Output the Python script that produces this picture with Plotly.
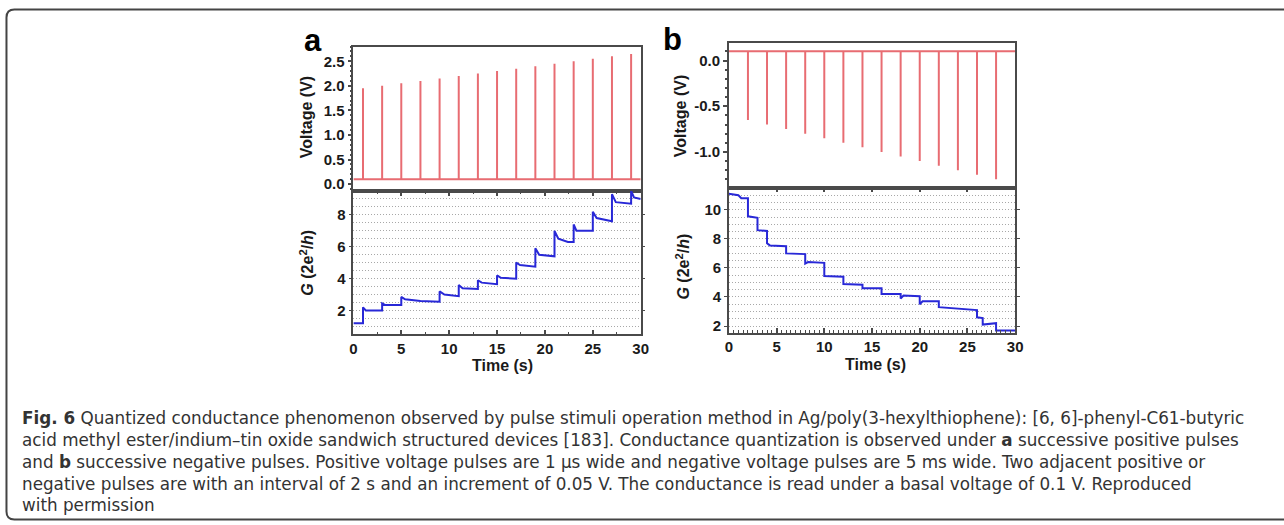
import plotly.graph_objects as go

W, H = 1284, 525

# ---------------- data ----------------
# panel a: positive pulses (time s, amplitude V)
pulse_t_a = [1, 3, 5, 7, 9, 11, 13, 15, 17, 19, 21, 23, 25, 27, 29]
pulse_v_a = [1.95, 2.00, 2.05, 2.10, 2.15, 2.20, 2.25, 2.30, 2.35, 2.40, 2.45, 2.50, 2.55, 2.60, 2.65]
basal_v = 0.1

# panel a: conductance trace (time s, G in 2e^2/h)
g_t_a = [0, 1, 1, 1.3, 3, 3, 3.3, 5, 5, 5.4, 7, 9, 9, 9.5, 11, 11, 11.4, 13, 13, 13.4, 15,
         15, 15.4, 17, 17, 17.4, 19, 19, 19.4, 21, 21, 21.4, 22.4, 23, 23, 23.3, 25, 25, 25.4,
         27, 27, 27.4, 29, 29, 29.3, 30]
g_v_a = [1.2, 1.2, 2.2, 2.0, 2.0, 2.45, 2.35, 2.35, 2.85, 2.7, 2.6, 2.55, 3.2, 3.0, 2.9, 3.6,
         3.4, 3.35, 3.9, 3.75, 3.65, 4.2, 4.05, 4.0, 5.0, 4.85, 4.75, 5.9, 5.5, 5.4, 7.0, 6.5,
         6.3, 6.3, 7.4, 7.0, 7.0, 8.2, 7.8, 7.6, 9.3, 8.8, 8.7, 9.5, 9.1, 9.0]

# panel b: negative pulses
pulse_t_b = [2, 4, 6, 8, 10, 12, 14, 16, 18, 20, 22, 24, 26, 28]
pulse_v_b = [-0.65, -0.70, -0.75, -0.80, -0.85, -0.90, -0.95, -1.00, -1.05, -1.10, -1.15,
             -1.20, -1.25, -1.30]

# panel b: conductance trace
g_t_b = [0, 1, 1.3, 2, 2, 3, 3, 4, 4, 4.3, 6, 6, 8, 8, 8.3, 10, 10, 12, 12, 14, 14, 16, 16,
         18, 18, 18.3, 20, 20, 20.3, 22, 22, 26, 26, 26.6, 26.6, 27.7, 28, 28, 30]
g_v_b = [11.1, 11.0, 10.8, 10.8, 9.55, 9.45, 8.6, 8.55, 7.7, 7.55, 7.5, 7.0, 6.95, 6.3, 6.4,
         6.35, 5.45, 5.4, 4.9, 4.85, 4.6, 4.6, 4.2, 4.2, 3.9, 4.1, 4.05, 3.5, 3.7, 3.7, 3.3,
         3.1, 2.6, 2.55, 2.1, 2.2, 2.2, 1.7, 1.7]

volt_ticks_b = [0.0, -0.5, -1.0]
volt_labels_b = ["0.0", "-0.5", "-1.0"]

caption_lines = [
    "<b>Fig. 6</b> Quantized conductance phenomenon observed by pulse stimuli operation method in Ag/poly(3-hexylthiophene): [6, 6]-phenyl-C61-butyric",
    "acid methyl ester/indium\u2013tin oxide sandwich structured devices [183]. Conductance quantization is observed under <b>a</b> successive positive pulses",
    "and <b>b</b> successive negative pulses. Positive voltage pulses are 1 \u03bcs wide and negative voltage pulses are 5 ms wide. Two adjacent positive or",
    "negative pulses are with an interval of 2 s and an increment of 0.05 V. The conductance is read under a basal voltage of 0.1 V. Reproduced",
    "with permission",
]

# ---------------- helpers ----------------
def px_x(p):
    return p / W

def px_y(p):
    return 1 - p / H

def pulse_train(times, amps, base, t0=0, t1=30):
    xs, ys = [t0], [base]
    for t, a in zip(times, amps):
        xs += [t, t, t]
        ys += [base, a, base]
    xs.append(t1)
    ys.append(base)
    return xs, ys

RED = "rgb(232,108,114)"
BLUE = "rgb(40,40,215)"
AX = "#4a4a4a"
GRID = "#a8a8a8"
TICKFONT = dict(family="Liberation Sans, Arial", size=15, color="#1a1a1a", weight="bold")

fig = go.Figure()

xa, ya = pulse_train(pulse_t_a, pulse_v_a, basal_v)
fig.add_trace(go.Scatter(x=xa, y=ya, mode="lines", line=dict(color=RED, width=2),
                         xaxis="x", yaxis="y", showlegend=False))
fig.add_trace(go.Scatter(x=g_t_a, y=g_v_a, mode="lines", line=dict(color=BLUE, width=2),
                         xaxis="x2", yaxis="y2", showlegend=False))
xb, yb = pulse_train(pulse_t_b, pulse_v_b, basal_v)
fig.add_trace(go.Scatter(x=xb, y=yb, mode="lines", line=dict(color=RED, width=2),
                         xaxis="x3", yaxis="y3", showlegend=False))
fig.add_trace(go.Scatter(x=g_t_b, y=g_v_b, mode="lines", line=dict(color=BLUE, width=2),
                         xaxis="x4", yaxis="y4", showlegend=False))

dom_a = [px_x(352.7), px_x(642.7)]
dom_b = [px_x(731.7), px_x(1020.7)]
top_a = [px_y(191.7), px_y(46.7)]
low_a = [px_y(335.7), px_y(191.7)]
top_b = [px_y(188.3), px_y(43.3)]
low_b = [px_y(334.0), px_y(188.3)]

def top_x(dom, anchor):
    return dict(domain=dom, anchor=anchor, range=[0, 30], showticklabels=False,
                showline=True, linecolor=AX, linewidth=1.5, mirror=True, ticks="",
                showgrid=False, zeroline=False)

def low_x(dom, anchor, minor_dt):
    return dict(domain=dom, anchor=anchor, range=[0, 30], dtick=5, tick0=0,
                showline=True, linecolor=AX, linewidth=1.5, mirror="allticks",
                ticks="inside", ticklen=5, tickwidth=1.5, tickcolor=AX,
                minor=dict(dtick=minor_dt, ticks="inside", ticklen=3, tickcolor=AX, tickwidth=1),
                tickfont=TICKFONT, showgrid=False, zeroline=False)

def volt_y(dom, anchor, rng, **kw):
    d = dict(domain=dom, anchor=anchor, range=rng, dtick=0.5,
             showline=True, linecolor=AX, linewidth=1.5, mirror=True,
             ticks="outside", ticklen=4, tickwidth=1.5, tickcolor=AX,
             minor=dict(dtick=0.1, ticks="outside", ticklen=2, tickcolor=AX),
             tickformat=".1f", tickfont=TICKFONT, showgrid=False, zeroline=False)
    d.update(kw)
    return d

def g_y(dom, anchor, rng):
    return dict(domain=dom, anchor=anchor, range=rng, dtick=2, tick0=0,
                showline=True, linecolor=AX, linewidth=1.5, mirror="allticks",
                ticks="outside", ticklen=3, tickwidth=1.2, tickcolor=AX,
                showgrid=True, gridcolor=GRID, griddash="1px,2px", gridwidth=1,
                minor=dict(dtick=0.5, showgrid=True, gridcolor=GRID, griddash="1px,2px",
                           gridwidth=1, ticks=""),
                tickfont=TICKFONT, zeroline=False)

fig.update_layout(
    width=W, height=H, margin=dict(l=0, r=0, t=0, b=0),
    paper_bgcolor="white", plot_bgcolor="white",
    xaxis=top_x(dom_a, "y"),
    yaxis=volt_y(top_a, "x", [-0.14, 2.8]),
    xaxis2=low_x(dom_a, "y2", 2.5),
    yaxis2=g_y(low_a, "x2", [0.5, 9.5]),
    xaxis3=top_x(dom_b, "y3"),
    yaxis3=volt_y(top_b, "x3", [-1.39, 0.19], tickmode="array",
                  tickvals=volt_ticks_b, ticktext=volt_labels_b),
    xaxis4=low_x(dom_b, "y4", 0.5),
    yaxis4=g_y(low_b, "x4", [1.54, 11.53]),
)

ann = []
LBL = dict(family="Liberation Sans, Arial", size=16, color="#1a1a1a", weight="bold")
def add_ann(text, x, y, font, angle=0, xanchor="center", yanchor="middle", align="center"):
    ann.append(dict(text=text, x=px_x(x), y=px_y(y), xref="paper", yref="paper",
                    showarrow=False, font=font, textangle=angle, align=align,
                    xanchor=xanchor, yanchor=yanchor))

add_ann("Voltage (V)", 305.5, 118, LBL, angle=-90)
add_ann("Voltage (V)", 683, 117, LBL, angle=-90)
add_ann("<i>G</i> (2e<sup>2</sup>/<i>h</i>)", 305.5, 264, LBL, angle=-90)
add_ann("<i>G</i> (2e<sup>2</sup>/<i>h</i>)", 685, 268, LBL, angle=-90)
add_ann("Time (s)", 503, 367, LBL)
add_ann("Time (s)", 880, 366, LBL)
PL = dict(family="Liberation Sans, Arial", size=31, color="#000", weight="bold")
add_ann("a", 312, 41, PL)
add_ann("b", 675, 40, PL)

CAP = dict(family="DejaVu Sans", size=16.8, color="#333333")
add_ann("<br>".join(caption_lines), 16, 463, CAP, xanchor="left", align="left")

fig.update_layout(annotations=ann)

# frame around the figure card
lx, ty, by = px_x(2.5), px_y(9.5), px_y(521.5)
rx, ry = 8 / W, 8 / H
path = (f"M 1.01,{ty} L {lx + rx},{ty} Q {lx},{ty} {lx},{ty - ry} "
        f"L {lx},{by + ry} Q {lx},{by} {lx + rx},{by} L 1.01,{by}")
fig.add_shape(type="path", path=path, xref="paper", yref="paper",
              line=dict(color="#444", width=2))

fig.write_html("out.html")
